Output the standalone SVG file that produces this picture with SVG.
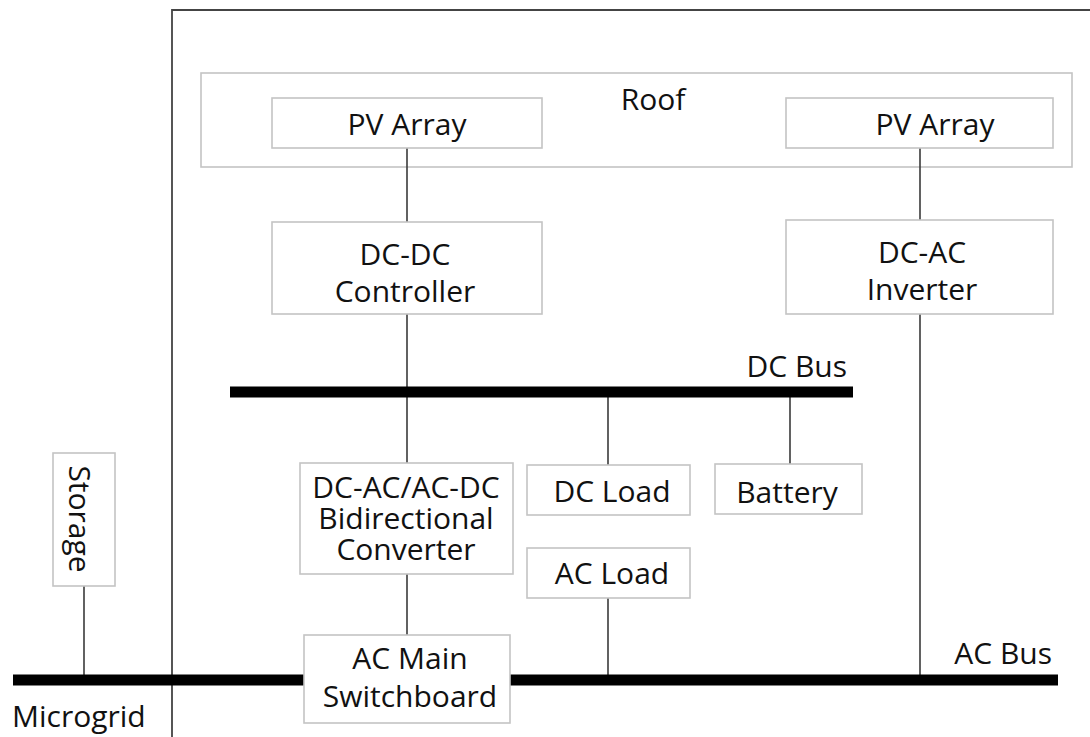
<svg xmlns="http://www.w3.org/2000/svg" width="1090" height="737" viewBox="0 0 1090 737">
<style>
.box{fill:#fff;stroke:#c4c4c4;stroke-width:1.6}
.frame{fill:none;stroke:#444;stroke-width:1.8}
.wire{fill:none;stroke:#3a3a3a;stroke-width:1.6}
.bus{fill:none;stroke:#000;stroke-width:11}
text{font-family:"Open Sans","Liberation Sans",sans-serif;font-size:30px;fill:#111;text-anchor:middle}
.l{text-anchor:start}
.r{text-anchor:end}
</style>
<rect width="1090" height="737" fill="#fff"/>
<path class="frame" d="M172,737 V10 H1092"/>
<g id="roof"><rect class="box" x="201" y="73" width="871" height="94"/><text x="653" y="110">Roof</text></g>
<g id="connectors">
<path class="wire" d="M407,148 V222"/>
<path class="wire" d="M407,314 V463"/>
<path class="wire" d="M920,148 V220"/>
<path class="wire" d="M920,314 V680"/>
<path class="wire" d="M608,392 V465"/>
<path class="wire" d="M790,392 V464"/>
<path class="wire" d="M407,574 V635"/>
<path class="wire" d="M608,598 V680"/>
<path class="wire" d="M84,586 V680"/>
</g>
<g id="dc-bus"><path class="bus" d="M230,392 H853"/><text class="r" x="847" y="377">DC Bus</text></g>
<g id="ac-bus"><path class="bus" d="M13,680 H1058"/><text class="r" x="1052" y="664">AC Bus</text></g>
<g id="pv1"><rect class="box" x="272" y="98" width="270" height="50"/><text x="407" y="135">PV Array</text></g>
<g id="pv2"><rect class="box" x="786" y="98" width="267" height="50"/><text x="935" y="135">PV Array</text></g>
<g id="dcdc"><rect class="box" x="272" y="222" width="270" height="92"/><text x="405" y="265">DC-DC</text><text x="405" y="302">Controller</text></g>
<g id="inverter"><rect class="box" x="786" y="220" width="267" height="94"/><text x="922" y="263">DC-AC</text><text x="922" y="300">Inverter</text></g>
<g id="bidir"><rect class="box" x="300" y="463" width="213" height="111"/><text x="406" y="498">DC-AC/AC-DC</text><text x="406" y="529">Bidirectional</text><text x="406" y="560">Converter</text></g>
<g id="dcload"><rect class="box" x="527" y="465" width="163" height="50"/><text x="612" y="502">DC Load</text></g>
<g id="battery"><rect class="box" x="715" y="464" width="147" height="50"/><text x="787" y="503">Battery</text></g>
<g id="acload"><rect class="box" x="527" y="548" width="163" height="50"/><text x="612" y="584">AC Load</text></g>
<g id="switchboard"><rect class="box" x="304" y="635" width="206" height="88"/><text x="410" y="669">AC Main</text><text x="410" y="707">Switchboard</text></g>
<g id="storage"><rect class="box" x="53" y="453" width="62" height="133"/><text transform="translate(69,519) rotate(90)">Storage</text></g>
<g id="microgrid"><text class="l" x="12" y="727">Microgrid</text></g>
</svg>
